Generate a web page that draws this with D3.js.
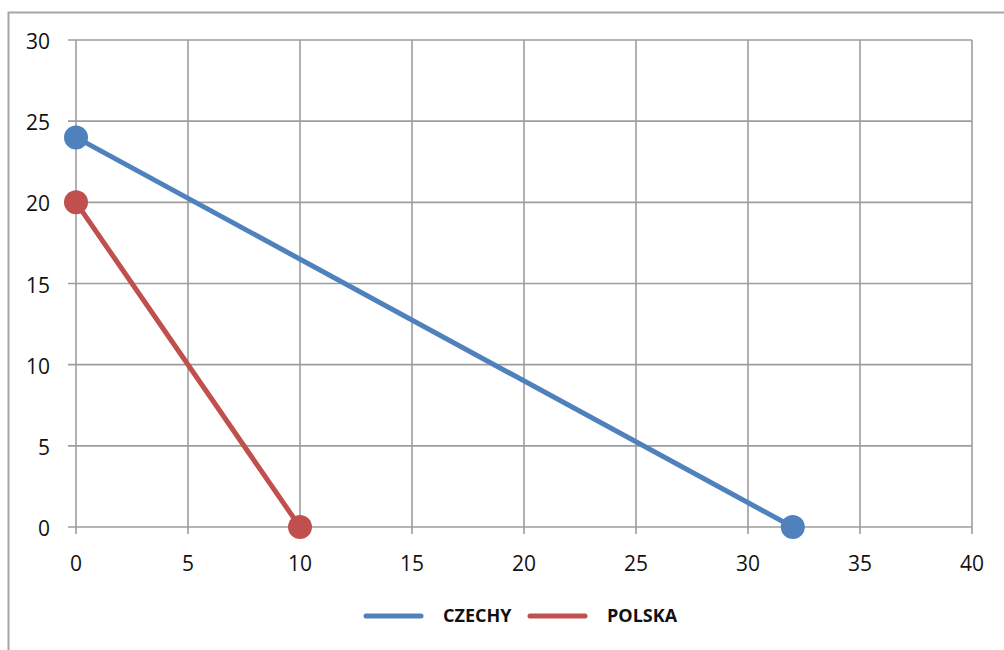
<!DOCTYPE html>
<html>
<head>
<meta charset="utf-8">
<script src="https://cdn.jsdelivr.net/npm/d3@7"></script>
<style>
    html, body { margin: 0; padding: 0; background: #fff; }
    svg { display: block; }
</style>
</head>
<body>
<div id="chart"></div>
<script>
// series
const seriesNames = ["CZECHY", "POLSKA"];
const czechyPoints = [[0, 24], [32, 0]];
const polskaPoints = [[0, 20], [10, 0]];
const xTicks = [0, 5, 10, 15, 20, 25, 30, 35, 40];
const yTicks = [0, 5, 10, 15, 20, 25, 30];

const colors = ["#4f81bd", "#c0504d"];
const width = 1004, height = 650;
const margin = {top: 40, right: 32, bottom: 123, left: 76};

const svg = d3.select('#chart')
    .append('svg')
    .attr('width', width)
    .attr('height', height)
    .style('font-family', '"Open Sans", sans-serif');

// outer chart frame (only left and top edges are visible in the crop)
svg.append('rect')
    .attr('x', 8.5)
    .attr('y', 12.5)
    .attr('width', 1100)
    .attr('height', 700)
    .attr('fill', 'none')
    .attr('stroke', '#a6a6a6')
    .attr('stroke-width', 2);

const x = d3.scaleLinear()
    .domain([0, 40])
    .range([margin.left, width - margin.right]);

const y = d3.scaleLinear()
    .domain([0, 30])
    .range([height - margin.bottom, margin.top]);

const grid = svg.append('g')
    .attr('stroke', '#9d9d9d')
    .attr('stroke-width', 1.6);

grid.selectAll('.vline')
    .data(xTicks)
    .join('line')
    .attr('x1', d => x(d))
    .attr('x2', d => x(d))
    .attr('y1', y(30))
    .attr('y2', y(0) + 7);

grid.selectAll('.hline')
    .data(yTicks)
    .join('line')
    .attr('x1', x(0) - 8)
    .attr('x2', x(40))
    .attr('y1', d => y(d))
    .attr('y2', d => y(d));

svg.append('g')
    .selectAll('text')
    .data(yTicks)
    .join('text')
    .attr('x', 50)
    .attr('y', d => y(d) + 1)
    .attr('text-anchor', 'end')
    .attr('dominant-baseline', 'central')
    .attr('font-size', 21)
    .attr('fill', '#111')
    .text(d => d);

svg.append('g')
    .selectAll('text')
    .data(xTicks)
    .join('text')
    .attr('x', d => x(d))
    .attr('y', y(0) + 36)
    .attr('text-anchor', 'middle')
    .attr('dominant-baseline', 'central')
    .attr('font-size', 21)
    .attr('fill', '#111')
    .text(d => d);

const line = d3.line()
    .x(d => x(d[0]))
    .y(d => y(d[1]));

const series = [czechyPoints, polskaPoints];

series.forEach((pts, i) => {
    svg.append('path')
        .datum(pts)
        .attr('d', line)
        .attr('fill', 'none')
        .attr('stroke', colors[i])
        .attr('stroke-width', 5)
        .attr('stroke-linecap', 'round');

    svg.append('g')
        .selectAll('circle')
        .data(pts)
        .join('circle')
        .attr('cx', d => x(d[0]))
        .attr('cy', d => y(d[1]))
        .attr('r', 12)
        .attr('fill', colors[i]);
});

// legend
const legendX = [366, 530];
const legend = svg.append('g');
seriesNames.forEach((name, i) => {
    legend.append('line')
        .attr('x1', legendX[i])
        .attr('x2', legendX[i] + 55)
        .attr('y1', 616)
        .attr('y2', 616)
        .attr('stroke', colors[i])
        .attr('stroke-width', 5)
        .attr('stroke-linecap', 'round');
    legend.append('text')
        .attr('x', legendX[i] + 77)
        .attr('y', 615)
        .attr('dominant-baseline', 'central')
        .attr('font-size', 18)
        .attr('font-weight', 'bold')
        .attr('fill', '#111')
        .text(name);
});
</script>
</body>
</html>
